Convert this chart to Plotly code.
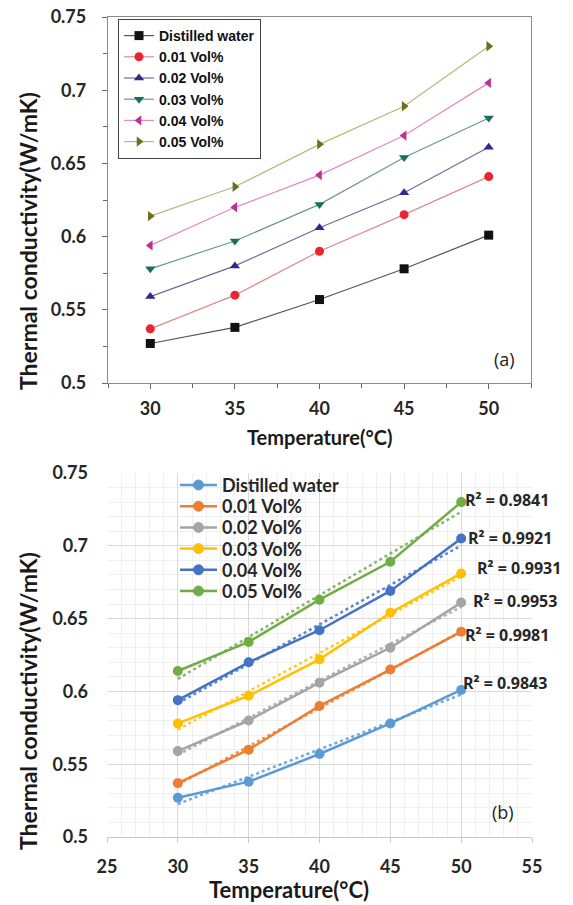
import numpy as np
import plotly.graph_objects as go

# ---------------- data ----------------
temps = [30, 35, 40, 45, 50]
series_names = ["Distilled water", "0.01 Vol%", "0.02 Vol%", "0.03 Vol%", "0.04 Vol%", "0.05 Vol%"]
distilled = [0.527, 0.538, 0.557, 0.578, 0.601]
vol001 = [0.537, 0.560, 0.590, 0.615, 0.641]
vol002 = [0.559, 0.580, 0.606, 0.630, 0.661]
vol003 = [0.578, 0.597, 0.622, 0.654, 0.681]
vol004 = [0.594, 0.620, 0.642, 0.669, 0.705]
vol005 = [0.614, 0.634, 0.663, 0.689, 0.730]
r2_labels = ["R² = 0.9843", "R² = 0.9981", "R² = 0.9953", "R² = 0.9931", "R² = 0.9921", "R² = 0.9841"]
# label anchor positions (data coords of the bottom panel)
r2_x = [50.12, 50.27, 50.83, 51.11, 50.48, 50.27]
r2_y = [0.6058, 0.6387, 0.6621, 0.6848, 0.7054, 0.7315]

y_tickvals = [0.5, 0.55, 0.6, 0.65, 0.7, 0.75]
y_ticktext = ["0.5", "0.55", "0.6", "0.65", "0.7", "0.75"]
xa_tickvals = [30, 35, 40, 45, 50]
xb_tickvals = [25, 30, 35, 40, 45, 50, 55]

all_series = [distilled, vol001, vol002, vol003, vol004, vol005]

# ---------------- styles ----------------
W, H = 573, 905
def px_x(p): return p / W
def px_y(p): return 1 - p / H

top_marker_colors = ["#111111", "#e8262b", "#2e2a8e", "#16705f", "#c02f98", "#6e6e1e"]
top_line_colors = ["#555555", "#e08a8a", "#6e6c9c", "#6e9890", "#e08ac8", "#b8b87a"]
top_symbols = ["square", "circle", "triangle-up", "triangle-down", "triangle-left", "triangle-right"]
bot_colors = ["#5b9bd5", "#ed7d31", "#a5a5a5", "#ffc000", "#4472c4", "#70ad47"]

fig = go.Figure()

# ---------------- panel (a) ----------------
for i, (name, vals) in enumerate(zip(series_names, all_series)):
    fig.add_trace(go.Scatter(
        x=temps, y=vals, name=name, mode="lines+markers",
        line=dict(color=top_line_colors[i], width=1.2),
        marker=dict(symbol=top_symbols[i], color=top_marker_colors[i], size=9),
        xaxis="x", yaxis="y", legend="legend",
    ))

# ---------------- panel (b) ----------------
for i, (name, vals) in enumerate(zip(series_names, all_series)):
    slope, icpt = np.polyfit(temps, vals, 1)
    fx = [temps[0], temps[-1]]
    fig.add_trace(go.Scatter(
        x=fx, y=[slope * v + icpt for v in fx], mode="lines",
        line=dict(color=bot_colors[i], width=2.5, dash="dot"),
        showlegend=False, hoverinfo="skip", xaxis="x2", yaxis="y2", opacity=0.85,
    ))
for i, (name, vals) in enumerate(zip(series_names, all_series)):
    fig.add_trace(go.Scatter(
        x=temps, y=vals, name=name, mode="lines+markers",
        line=dict(color=bot_colors[i], width=2.5),
        marker=dict(symbol="circle", color=bot_colors[i], size=10),
        xaxis="x2", yaxis="y2", showlegend=False,
    ))

tick_font = dict(family="Lato", size=18, color="#262626", weight="bold")

annotations = []
shapes = []
for lab, ax_, ay_ in zip(r2_labels, r2_x, r2_y):
    annotations.append(dict(x=ax_, y=ay_, xref="x2", yref="y2", text=lab, showarrow=False,
                            xanchor="left", yanchor="middle", xshift=-2,
                            font=dict(family="Open Sans", size=16, color="#262626", weight="bold")))

# legend of panel (b), drawn Excel-style (tight rows)
leg_row0, leg_step = 485, 21.2
for i, name in enumerate(series_names):
    yy = px_y(leg_row0 + i * leg_step)
    shapes.append(dict(type="line", xref="paper", yref="paper", x0=px_x(180), x1=px_x(217),
                       y0=yy, y1=yy, line=dict(color=bot_colors[i], width=2.5)))
    shapes.append(dict(type="circle", xref="paper", yref="paper",
                       x0=px_x(193.5), x1=px_x(203.5), y0=yy - 5 / H, y1=yy + 5 / H,
                       fillcolor=bot_colors[i], line=dict(color=bot_colors[i], width=1)))
    annotations.append(dict(x=px_x(220), y=yy, xref="paper", yref="paper", text="<b>%s</b>" % name,
                            showarrow=False, xanchor="left", yanchor="middle",
                            font=dict(family="Lato", size=18, color="#262626")))

title_font_a = dict(family="Lato", size=20, color="#1a1a1a", weight="bold")
title_font_b = dict(family="Lato", size=22, color="#1a1a1a", weight="bold")
ytitle_font = dict(family="Lato", size=23, color="#1a1a1a", weight="bold")
annotations += [
    dict(x=px_x(320), y=px_y(437), xref="paper", yref="paper", text="Temperature(°C)",
         showarrow=False, xanchor="center", yanchor="middle", font=title_font_a),
    dict(x=px_x(289), y=px_y(889), xref="paper", yref="paper", text="Temperature(°C)",
         showarrow=False, xanchor="center", yanchor="middle", font=title_font_b),
    dict(x=px_x(28), y=px_y(241), xref="paper", yref="paper", text="Thermal conductivity(W/mK)",
         showarrow=False, textangle=-90, xanchor="center", yanchor="middle", font=ytitle_font),
    dict(x=px_x(28), y=px_y(701), xref="paper", yref="paper", text="Thermal conductivity(W/mK)",
         showarrow=False, textangle=-90, xanchor="center", yanchor="middle", font=ytitle_font),
    dict(x=px_x(504), y=px_y(359), xref="paper", yref="paper", text="(a)", showarrow=False,
         xanchor="center", yanchor="middle", font=dict(family="Open Sans", size=18, color="#222222")),
    dict(x=px_x(503), y=px_y(812), xref="paper", yref="paper", text="(b)", showarrow=False,
         xanchor="center", yanchor="middle", font=dict(family="Open Sans", size=18, color="#222222")),
]

fig.update_layout(
    template="none",
    width=W, height=H, margin=dict(l=0, r=0, t=0, b=0, pad=0, autoexpand=False),
    paper_bgcolor="white", plot_bgcolor="white",
    showlegend=True,
    xaxis=dict(domain=[px_x(108), px_x(531)], anchor="y", range=[27.5, 52.5], automargin=False,
               tickvals=xa_tickvals, showline=True, mirror=True, linecolor="#8a8a8a", linewidth=1.3,
               ticks="outside", ticklen=5, tickcolor="#666666", tickwidth=1.2,
               minor=dict(dtick=2.5, tick0=0, ticks="outside", ticklen=4, tickcolor="#666666"),
               showgrid=False, zeroline=False, tickfont=tick_font, ticklabelstandoff=4),
    yaxis=dict(domain=[px_y(383), px_y(17)], anchor="x", range=[0.5, 0.75], automargin=False,
               tickvals=y_tickvals, ticktext=y_ticktext, showline=True, mirror=True,
               linecolor="#8a8a8a", linewidth=1.3,
               ticks="outside", ticklen=5, tickcolor="#666666", tickwidth=1.2,
               minor=dict(dtick=0.025, tick0=0, ticks="outside", ticklen=4, tickcolor="#666666"),
               showgrid=False, zeroline=False, tickfont=tick_font, ticklabelstandoff=12),
    xaxis2=dict(domain=[px_x(107), px_x(532)], anchor="y2", range=[25, 55], automargin=False,
                tickvals=xb_tickvals, showline=True, linecolor="#c8c8c8", linewidth=1.3,
                ticks="outside", ticklen=5, tickcolor="#c8c8c8",
                showgrid=True, gridcolor="#d9d9d9", gridwidth=1,
                minor=dict(dtick=1, tick0=0, showgrid=True, gridcolor="#efefef", gridwidth=1),
                zeroline=False, tickfont=tick_font, ticklabelstandoff=8),
    yaxis2=dict(domain=[px_y(837), px_y(473)], anchor="x2", range=[0.5, 0.75], automargin=False,
                tickvals=y_tickvals, ticktext=y_ticktext, showline=False, ticks="",
                showgrid=True, gridcolor="#d9d9d9", gridwidth=1,
                minor=dict(dtick=0.01, tick0=0, showgrid=True, gridcolor="#efefef", gridwidth=1),
                zeroline=False, tickfont=tick_font, ticklabelstandoff=18),
    legend=dict(x=px_x(118), y=px_y(19), xanchor="left", yanchor="top",
                bordercolor="#444444", borderwidth=1, bgcolor="white",
                font=dict(family="Liberation Sans", size=14, color="#111111", weight="bold"),
                tracegroupgap=0, itemwidth=30),
    annotations=annotations,
    shapes=shapes,
)

fig.write_html("out.html")
